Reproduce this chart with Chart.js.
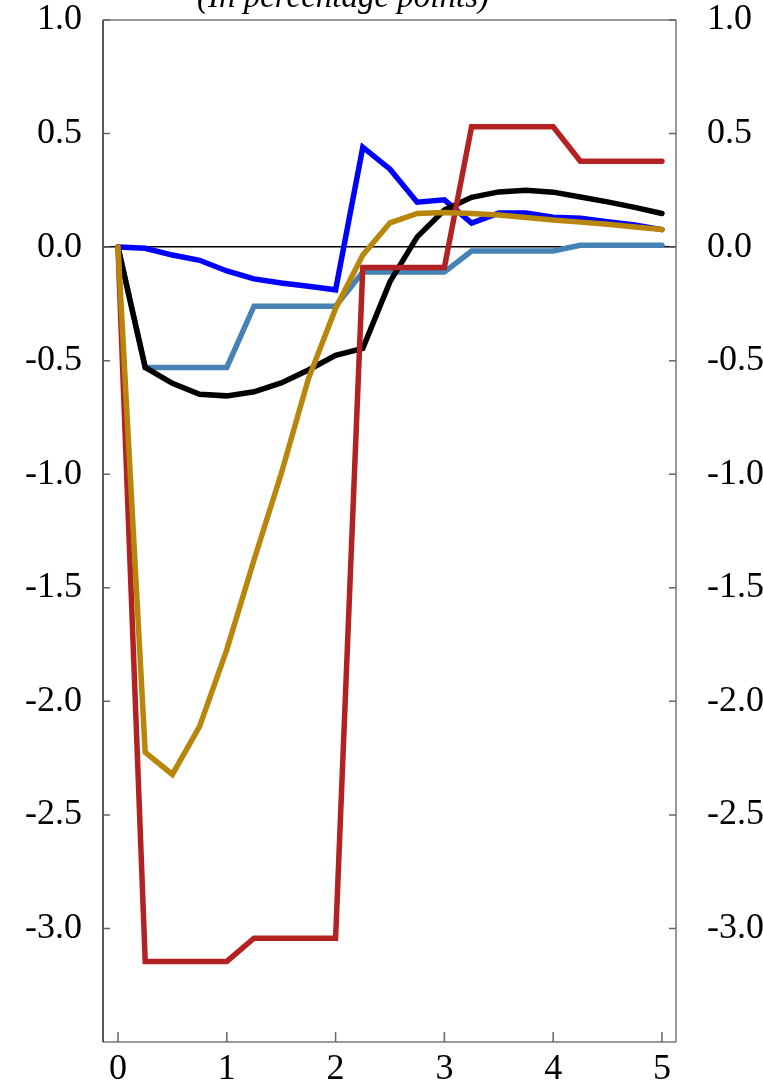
<!DOCTYPE html>
<html>
<head>
<meta charset="utf-8">
<script src="https://cdn.jsdelivr.net/npm/chart.js@4.4.1/dist/chart.umd.min.js"></script>
<style>
  html, body { margin: 0; padding: 0; background: #fff; }
  #wrap { width: 763px; height: 1087px; position: relative; }
</style>
</head>
<body>
<div id="wrap"><canvas id="c" width="763" height="1087"></canvas></div>
<script>
// ---- Data (years after shock, quarterly) ----
const quarters = [0, 0.25, 0.5, 0.75, 1, 1.25, 1.5, 1.75, 2, 2.25, 2.5, 2.75, 3, 3.25, 3.5, 3.75, 4, 4.25, 4.5, 4.75, 5];
const seriesBlue  = [0, -0.005, -0.035, -0.058, -0.105, -0.14, -0.158, -0.172, -0.188, 0.44, 0.343, 0.198, 0.208, 0.106, 0.15, 0.15, 0.132, 0.127, 0.112, 0.097, 0.077];
const seriesSteel = [0, -0.53, -0.53, -0.53, -0.53, -0.26, -0.26, -0.26, -0.26, -0.11, -0.11, -0.11, -0.11, -0.017, -0.017, -0.017, -0.017, 0.008, 0.008, 0.008, 0.008];
const seriesBlack = [0, -0.53, -0.60, -0.648, -0.655, -0.637, -0.598, -0.541, -0.476, -0.446, -0.152, 0.045, 0.163, 0.219, 0.243, 0.25, 0.242, 0.221, 0.199, 0.175, 0.148];
const seriesRed   = [0, -3.145, -3.145, -3.145, -3.145, -3.043, -3.043, -3.043, -3.043, -0.09, -0.09, -0.09, -0.09, 0.53, 0.53, 0.53, 0.53, 0.378, 0.378, 0.378, 0.378];
const seriesGold  = [0, -2.225, -2.322, -2.11, -1.772, -1.378, -0.998, -0.58, -0.27, -0.035, 0.107, 0.148, 0.152, 0.148, 0.141, 0.13, 0.119, 0.11, 0.101, 0.089, 0.078];
const xTicks = [0, 1, 2, 3, 4, 5];
const yTicks = [-3.0, -2.5, -2.0, -1.5, -1.0, -0.5, 0.0, 0.5, 1.0];
const titleText = "(In percentage points)";

const pairs = (ys) => ys.map((y, i) => ({ x: quarters[i], y: y }));

const tickFont = { family: "'Liberation Serif', 'DejaVu Serif', serif", size: 36, lineHeight: 1 };

const noPad = (s) => { s.paddingTop = 0; s.paddingBottom = 0; s.paddingLeft = 0; s.paddingRight = 0; };

const frameAndTicks = {
  id: 'frameAndTicks',
  afterDraw(chart) {
    const { ctx, chartArea: a } = chart;
    const xs = chart.scales.x, ys = chart.scales.y;
    ctx.save();
    // frame
    ctx.lineWidth = 1.5;
    ctx.strokeStyle = '#777';
    ctx.beginPath();
    ctx.moveTo(a.left, a.top); ctx.lineTo(a.right, a.top);
    ctx.moveTo(a.right, a.top); ctx.lineTo(a.right, a.bottom);
    ctx.moveTo(a.left, a.bottom); ctx.lineTo(a.right, a.bottom);
    ctx.stroke();
    ctx.strokeStyle = '#000';
    ctx.lineWidth = 1.3;
    ctx.beginPath();
    ctx.moveTo(a.left, a.top); ctx.lineTo(a.left, a.bottom);
    ctx.stroke();
    // inward ticks
    ctx.strokeStyle = '#666';
    ctx.lineWidth = 1.5;
    ctx.beginPath();
    ys.ticks.forEach((t, i) => {
      const p = ys.getPixelForTick(i);
      ctx.moveTo(a.left, p); ctx.lineTo(a.left + 7, p);
      ctx.moveTo(a.right, p); ctx.lineTo(a.right - 7, p);
    });
    xs.ticks.forEach((t, i) => {
      const p = xs.getPixelForTick(i);
      ctx.moveTo(p, a.bottom); ctx.lineTo(p, a.bottom - 10);
    });
    ctx.stroke();
    // title (partially cut off at the top)
    ctx.fillStyle = '#000';
    ctx.font = "italic 33px 'Liberation Serif', serif";
    ctx.textAlign = 'center';
    ctx.textBaseline = 'alphabetic';
    ctx.fillText(titleText, 343, 7);
    ctx.restore();
  }
};

const lineDs = (label, data, color) => ({
  label, data: pairs(data), borderColor: color, backgroundColor: color,
  borderWidth: 5.5, pointRadius: 0, tension: 0, fill: false,
  borderCapStyle: 'round', borderJoinStyle: 'miter'
});

new Chart(document.getElementById('c'), {
  type: 'line',
  data: {
    datasets: [
      lineDs('Gold', seriesGold, '#B8860B'),
      lineDs('Red', seriesRed, '#B22222'),
      lineDs('Black', seriesBlack, '#000000'),
      lineDs('Steel blue', seriesSteel, '#4682B4'),
      lineDs('Blue', seriesBlue, '#0000FF')
    ]
  },
  options: {
    responsive: false,
    animation: false,
    events: [],
    layout: { padding: { top: 20, left: 0, right: 0, bottom: 0 } },
    plugins: { legend: { display: false }, tooltip: { enabled: false }, title: { display: false } },
    scales: {
      x: {
        type: 'linear', min: -0.138, max: 5.129,
        afterBuildTicks: (s) => { s.ticks = xTicks.map(v => ({ value: v })); },
        afterFit: (s) => { s.height = 45; noPad(s); },
        grid: { display: true, drawOnChartArea: false, drawTicks: false },
        border: { display: false },
        ticks: { color: '#000', font: tickFont, padding: 10, maxRotation: 0, callback: (v) => String(v) }
      },
      y: {
        type: 'linear', position: 'left', min: -3.5, max: 1.0,
        afterBuildTicks: (s) => { s.ticks = yTicks.map(v => ({ value: v })); },
        afterFit: (s) => { s.width = 103; noPad(s); },
        grid: { drawTicks: false, lineWidth: 1.5, color: (c) => (c.tick && c.tick.value === 0 ? '#000' : 'rgba(0,0,0,0)') },
        border: { display: false },
        ticks: { color: '#000', font: tickFont, padding: 21, callback: (v) => Number(v).toFixed(1) }
      },
      y2: {
        type: 'linear', position: 'right', min: -3.5, max: 1.0,
        afterBuildTicks: (s) => { s.ticks = yTicks.map(v => ({ value: v })); },
        afterFit: (s) => { s.width = 87; noPad(s); },
        grid: { drawOnChartArea: false, drawTicks: false },
        border: { display: false },
        ticks: { color: '#000', font: tickFont, padding: 31, callback: (v) => Number(v).toFixed(1) }
      }
    }
  },
  plugins: [frameAndTicks]
});
</script>
</body>
</html>
